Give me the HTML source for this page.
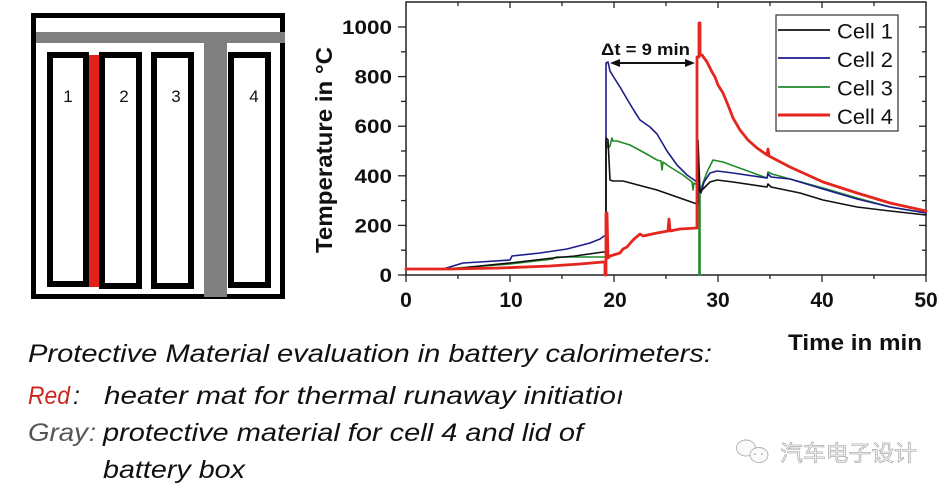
<!DOCTYPE html>
<html>
<head>
<meta charset="utf-8">
<style>
  html, body { margin: 0; padding: 0; background: #ffffff; }
  body { width: 948px; height: 495px; overflow: hidden; }
  svg { display: block; }
  .b { font-family: "Liberation Sans", Arial, sans-serif; font-weight: bold; fill: #111; }
  .r { font-family: "Liberation Sans", Arial, sans-serif; fill: #111; }
  .it { font-family: "Liberation Sans", Arial, sans-serif; font-style: italic; fill: #111; }
</style>
</head>
<body>
<svg width="948" height="495" viewBox="0 0 948 495" xmlns="http://www.w3.org/2000/svg">
  <rect x="0" y="0" width="948" height="495" fill="#ffffff"/>

  <!-- Left diagram -->
  <rect x="33.5" y="15.5" width="249" height="281" fill="none" stroke="#000" stroke-width="5"/>
  <rect x="50" y="55" width="36" height="229" fill="#fff" stroke="#000" stroke-width="6"/>
  <rect x="102" y="55" width="37" height="231" fill="#fff" stroke="#000" stroke-width="6"/>
  <rect x="154" y="55" width="37" height="231" fill="#fff" stroke="#000" stroke-width="6"/>
  <rect x="231" y="55" width="37" height="230" fill="#fff" stroke="#000" stroke-width="6"/>
  <rect x="89" y="55" width="10" height="232" fill="#e3211c"/>
  <rect x="36" y="32" width="249" height="11" fill="#808080"/>
  <rect x="204" y="32" width="23" height="265" fill="#808080"/>
  <text class="r" x="68" y="102" font-size="17" text-anchor="middle" fill="#222">1</text>
  <text class="r" x="124" y="102" font-size="17" text-anchor="middle" fill="#222">2</text>
  <text class="r" x="176" y="102" font-size="17" text-anchor="middle" fill="#222">3</text>
  <text class="r" x="254" y="102" font-size="17" text-anchor="middle" fill="#222">4</text>

  <!-- Chart frame -->
  <rect x="406" y="2" width="520" height="273" fill="none" stroke="#222" stroke-width="1.5"/>

  <g stroke="#222" stroke-width="1.3">
    <line x1="406" y1="275" x2="406" y2="282"/>
    <line x1="510" y1="275" x2="510" y2="282"/>
    <line x1="614" y1="275" x2="614" y2="282"/>
    <line x1="718" y1="275" x2="718" y2="282"/>
    <line x1="822" y1="275" x2="822" y2="282"/>
    <line x1="926" y1="275" x2="926" y2="282"/>
    <line x1="458" y1="275" x2="458" y2="279"/>
    <line x1="562" y1="275" x2="562" y2="279"/>
    <line x1="666" y1="275" x2="666" y2="279"/>
    <line x1="770" y1="275" x2="770" y2="279"/>
    <line x1="874" y1="275" x2="874" y2="279"/>
    <line x1="510" y1="2" x2="510" y2="8"/>
    <line x1="614" y1="2" x2="614" y2="8"/>
    <line x1="718" y1="2" x2="718" y2="8"/>
    <line x1="822" y1="2" x2="822" y2="8"/>
    <line x1="458" y1="2" x2="458" y2="6"/>
    <line x1="562" y1="2" x2="562" y2="6"/>
    <line x1="666" y1="2" x2="666" y2="6"/>
    <line x1="770" y1="2" x2="770" y2="6"/>
    <line x1="874" y1="2" x2="874" y2="6"/>
    <line x1="398" y1="275" x2="406" y2="275"/>
    <line x1="398" y1="225.4" x2="406" y2="225.4"/>
    <line x1="398" y1="175.8" x2="406" y2="175.8"/>
    <line x1="398" y1="126.2" x2="406" y2="126.2"/>
    <line x1="398" y1="76.6" x2="406" y2="76.6"/>
    <line x1="398" y1="27" x2="406" y2="27"/>
    <line x1="401" y1="250.2" x2="406" y2="250.2"/>
    <line x1="401" y1="200.6" x2="406" y2="200.6"/>
    <line x1="401" y1="151" x2="406" y2="151"/>
    <line x1="401" y1="101.4" x2="406" y2="101.4"/>
    <line x1="401" y1="51.8" x2="406" y2="51.8"/>
    <line x1="919" y1="225.4" x2="926" y2="225.4"/>
    <line x1="919" y1="175.8" x2="926" y2="175.8"/>
    <line x1="919" y1="126.2" x2="926" y2="126.2"/>
    <line x1="919" y1="76.6" x2="926" y2="76.6"/>
    <line x1="919" y1="27" x2="926" y2="27"/>
    <line x1="922" y1="250.2" x2="926" y2="250.2"/>
    <line x1="922" y1="200.6" x2="926" y2="200.6"/>
    <line x1="922" y1="151" x2="926" y2="151"/>
    <line x1="922" y1="101.4" x2="926" y2="101.4"/>
    <line x1="922" y1="51.8" x2="926" y2="51.8"/>
  </g>

  <text class="b" x="342" y="34" font-size="19" textLength="50" lengthAdjust="spacingAndGlyphs">1000</text>
  <text class="b" x="354.5" y="83.5" font-size="19" textLength="37.5" lengthAdjust="spacingAndGlyphs">800</text>
  <text class="b" x="354.5" y="133" font-size="19" textLength="37.5" lengthAdjust="spacingAndGlyphs">600</text>
  <text class="b" x="354.5" y="183" font-size="19" textLength="37.5" lengthAdjust="spacingAndGlyphs">400</text>
  <text class="b" x="354.5" y="232.5" font-size="19" textLength="37.5" lengthAdjust="spacingAndGlyphs">200</text>
  <text class="b" x="379.5" y="282" font-size="19" textLength="12.5" lengthAdjust="spacingAndGlyphs">0</text>

  <text class="b" x="406" y="307" font-size="21" text-anchor="middle">0</text>
  <text class="b" x="511" y="307" font-size="21" text-anchor="middle">10</text>
  <text class="b" x="615" y="307" font-size="21" text-anchor="middle">20</text>
  <text class="b" x="718" y="307" font-size="21" text-anchor="middle">30</text>
  <text class="b" x="822" y="307" font-size="21" text-anchor="middle">40</text>
  <text class="b" x="926" y="307" font-size="21" text-anchor="middle">50</text>

  <text class="b" transform="translate(332,150) rotate(-90)" x="0" y="0" font-size="23" text-anchor="middle" textLength="206" lengthAdjust="spacingAndGlyphs">Temperature in °C</text>
  <text class="b" x="788" y="350" font-size="22" textLength="134" lengthAdjust="spacingAndGlyphs">Time in min</text>

  <g fill="none" stroke-linejoin="round" stroke-linecap="round">
    <polyline stroke="#1f8a2a" stroke-width="1.6" points="406,269 443,269 470,267 510,264 553,259 556,257 600,257 606,257 606,140 608,148 610,146 612,138 613,141 617,141 630,145 643,152 657,160 661,161 662,170 663,162 670,167 683,175 692,182 693,190 694,183 697,185 699,185 699,275 700,275 700,192 703,183 707,172 713,160 723,162 767,178 768,172 772,174 790,179 823,188 857,198 890,207 926,213"/>
    <polyline stroke="#1c1c8a" stroke-width="1.6" points="406,269 443,269 463,263 480,262 510,260 512,256 540,253 567,249 590,243 600,239 604,236 606,236 606,63 608,62 610,71 613,76 620,87 627,99 633,109 640,120 650,127 657,134 667,151 677,165 687,175 697,182 699,190 701,193 704,182 710,173 717,171 733,173 767,178 768,174 771,177 790,179 823,189 857,199 890,207 926,213"/>
    <polyline stroke="#111" stroke-width="1.6" points="406,269 455,269 470,267 510,263 553,258 575,256 603,252 606,252 606,138 608,140 610,180 613,181 623,181 657,190 697,204 698,204 698,140 700,192 705,187 710,182 717,180 733,182 767,187 768,184 771,187 800,193 823,200 857,207 890,211 926,215"/>
    <polyline stroke="#e5251e" stroke-width="2.8" points="406,269 450,269 500,268 550,266 580,264 603,262 605,262 605,275 606,275 606,213 607,213 608,258 610,256 620,253 623,249 627,247 633,240 640,234 643,236 657,233 668,231 669,219 670,231 680,229 697,228 697,57 699,57 699,23 700,23 700,55 702,55 707,62 712,72 715,77 718,85 723,93 728,105 733,118 740,130 748,140 757,148 767,155 768,149 769,156 790,167 823,182 857,193 890,203 926,211"/>
  </g>

  <text class="b" x="601" y="55" font-size="17" textLength="89" lengthAdjust="spacingAndGlyphs">Δt = 9 min</text>
  <line x1="616" y1="63" x2="689" y2="63" stroke="#111" stroke-width="2"/>
  <polygon points="610,63 620,59 620,67" fill="#111"/>
  <polygon points="695,63 685,59 685,67" fill="#111"/>

  <rect x="776" y="15" width="122" height="116" fill="#fff" stroke="#333" stroke-width="1.2"/>
  <line x1="778" y1="30" x2="830" y2="30" stroke="#111" stroke-width="1.8"/>
  <line x1="778" y1="58" x2="830" y2="58" stroke="#1c1c8a" stroke-width="1.8"/>
  <line x1="778" y1="87" x2="830" y2="87" stroke="#1f8a2a" stroke-width="1.8"/>
  <line x1="778" y1="115" x2="830" y2="115" stroke="#e5251e" stroke-width="3"/>
  <text class="r" x="837" y="38.5" font-size="21" textLength="56" lengthAdjust="spacingAndGlyphs">Cell 1</text>
  <text class="r" x="837" y="67" font-size="21" textLength="56" lengthAdjust="spacingAndGlyphs">Cell 2</text>
  <text class="r" x="837" y="95.5" font-size="21" textLength="56" lengthAdjust="spacingAndGlyphs">Cell 3</text>
  <text class="r" x="837" y="124" font-size="21" textLength="56" lengthAdjust="spacingAndGlyphs">Cell 4</text>

  <!-- Bottom text -->
  <text class="it" x="28" y="362" font-size="25" textLength="684" lengthAdjust="spacingAndGlyphs">Protective Material evaluation in battery calorimeters:</text>

  <text class="it" x="28" y="404" font-size="25" textLength="42" lengthAdjust="spacingAndGlyphs" style="fill:#c8261f">Red</text>
  <text class="it" x="73" y="404" font-size="25">:</text>
  <text class="it" x="104" y="404" font-size="25" textLength="512" lengthAdjust="spacingAndGlyphs">heater mat for thermal runaway initiatio</text>
  <clipPath id="cutn"><rect x="600" y="380" width="22" height="40"/></clipPath>
  <text class="it" x="617" y="404" font-size="25" clip-path="url(#cutn)">n</text>

  <text class="it" x="28" y="441" font-size="25" textLength="60" lengthAdjust="spacingAndGlyphs" style="fill:#555">Gray</text>
  <text class="it" x="89" y="441" font-size="25" style="fill:#555">:</text>
  <text class="it" x="103" y="441" font-size="25" textLength="480" lengthAdjust="spacingAndGlyphs">protective material for cell 4 and lid of</text>

  <text class="it" x="103" y="478" font-size="25" textLength="142" lengthAdjust="spacingAndGlyphs">battery box</text>

  <!-- Watermark -->
  <g fill="#fafafa" stroke="#b0b0b0" stroke-width="0.9">
    <ellipse cx="746" cy="448" rx="9.5" ry="8"/>
    <ellipse cx="759" cy="455" rx="9" ry="7.5"/>
  </g>
  <circle cx="755" cy="454" r="0.9" fill="#aaa"/>
  <circle cx="762" cy="454" r="0.9" fill="#aaa"/>
  <text x="780" y="461" font-size="22" font-family="'Liberation Sans', 'Noto Sans CJK SC', sans-serif" fill="#f4f4f4" stroke="#a0a0a0" stroke-width="0.6" textLength="137" lengthAdjust="spacingAndGlyphs">汽车电子设计</text>
</svg>
</body>
</html>
